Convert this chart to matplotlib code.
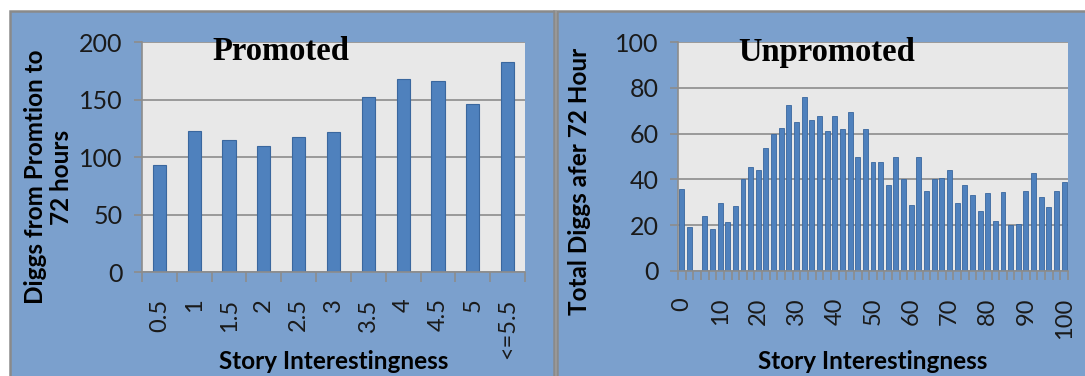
import numpy as np
import matplotlib
matplotlib.use("Agg")
import matplotlib.pyplot as plt
from matplotlib.patches import Rectangle

# promoted stories: mean diggs by interestingness bucket
promoted_labels = ['0.5', '1', '1.5', '2', '2.5', '3', '3.5', '4', '4.5', '5', '<=5.5']
promoted_diggs = [93, 123, 115, 110, 117, 122, 152, 168, 166, 146, 183]

# unpromoted stories: interestingness 0..100 in steps of 2
unpromoted_x = list(range(0, 101, 2))
unpromoted_diggs = [36, 19, 0, 24, 18.5, 29.5, 21.5, 28.5, 40, 45.5,
                    44, 53.5, 60, 62.5, 72.5, 65, 76, 66, 67.5, 61,
                    67.5, 62, 69.5, 50, 62, 47.5, 47.5, 37.5, 50, 40,
                    29, 50, 35, 40, 40.5, 44, 29.5, 37.5, 33, 26,
                    34, 22, 34.5, 20, 20.5, 35, 43, 32.5, 28, 35, 39]

W, H = 1085, 376
PANEL = '#7BA0CD'
PLOT_BG = '#E8E8E8'
GRID = '#8C8C8C'
BAR = '#4F81BD'
BAR_EDGE = '#3A679E'
TICK_FONT = 'Lato'

fig = plt.figure(figsize=(W / 100, H / 100), dpi=100)
fig.patch.set_facecolor('white')


def px(x0, y0, x1, y1):
    # pixel box (top-left origin) -> figure fraction rect
    return [x0 / W, 1 - y1 / H, (x1 - x0) / W, (y1 - y0) / H]


# the two chart panels and the divider between them
fig.patches.append(Rectangle((553 / W, 0), 4 / W, 1 - 10 / H, transform=fig.transFigure,
                             facecolor='#C4C4C4', edgecolor='none', zorder=0))
fig.patches.append(Rectangle((9.5 / W, -0.01), 544 / W, 1 - 10.5 / H + 0.01, transform=fig.transFigure,
                             facecolor=PANEL, edgecolor='#8A8A8A', linewidth=1.8, zorder=1))
fig.patches.append(Rectangle((556.5 / W, -0.01), 540 / W, 1 - 10.5 / H + 0.01, transform=fig.transFigure,
                             facecolor=PANEL, edgecolor='#8A8A8A', linewidth=1.8, zorder=1))


def style_axes(ax, n, ymax, ystep, major_pos, major_labels, tick_len):
    ax.set_facecolor(PLOT_BG)
    ax.set_xlim(-0.5, n - 0.5)
    ax.set_ylim(0, ymax)
    ax.set_yticks(np.arange(0, ymax + 1, ystep))
    ax.yaxis.grid(True, color=GRID, linewidth=1.2)
    ax.set_axisbelow(True)
    for s in ['top', 'right']:
        ax.spines[s].set_visible(False)
    for s in ['left', 'bottom']:
        ax.spines[s].set_color(GRID)
        ax.spines[s].set_linewidth(1.2)
    ax.set_xticks(major_pos)
    ax.set_xticklabels(major_labels, rotation=90, fontsize=17, family=TICK_FONT, color='#1a1a1a')
    ax.set_xticks(np.arange(-0.5, n, 1.0), minor=True)
    ax.tick_params(axis='x', which='major', length=0, pad=19)
    ax.tick_params(axis='x', which='minor', length=tick_len, width=1.2, color=GRID)
    ax.tick_params(axis='y', length=6, width=1.2, color=GRID, pad=8, labelsize=18)
    for lab in ax.get_yticklabels():
        lab.set_family(TICK_FONT)
        lab.set_color('#1a1a1a')


# left chart: promoted
ax1 = fig.add_axes(px(142, 42, 525, 272))
ax1.set_zorder(3)
xi = np.arange(len(promoted_diggs))
ax1.bar(xi, promoted_diggs, width=0.38, color=BAR, edgecolor=BAR_EDGE, linewidth=0.8)
style_axes(ax1, len(promoted_diggs), 200, 50, xi, promoted_labels, 7)
ax1.text(281 / W, 1 - 52 / H, 'Promoted', transform=fig.transFigure, ha='center', va='center',
         fontsize=23.5, fontweight='bold', family='Liberation Serif', zorder=5)
ax1.set_ylabel('Diggs from Promtion to\n72 hours', fontsize=17.5, fontweight='bold',
               family=TICK_FONT, linespacing=1.2, va='center')
ax1.yaxis.set_label_coords(48.5 / W, 1 - 177 / H, transform=fig.transFigure)
ax1.set_xlabel('Story Interestingness', fontsize=17.5, fontweight='bold', family=TICK_FONT, va='top')
ax1.xaxis.set_label_coords(333.5 / W, 1 - 350 / H, transform=fig.transFigure)

# right chart: unpromoted
ax2 = fig.add_axes(px(678, 42, 1068, 271))
ax2.set_zorder(3)
xj = np.arange(len(unpromoted_diggs))
ax2.bar(xj, unpromoted_diggs, width=0.65, color=BAR, edgecolor=BAR_EDGE, linewidth=0.6)
major = xj[::5]
style_axes(ax2, len(unpromoted_diggs), 100, 20, major, [str(unpromoted_x[i]) for i in major], 6.5)
ax2.text(827 / W, 1 - 52 / H, 'Unpromoted', transform=fig.transFigure, ha='center', va='center',
         fontsize=23.5, fontweight='bold', family='Liberation Serif', zorder=5)
ax2.set_ylabel('Total Diggs afer 72 Hour', fontsize=17.5, fontweight='bold', family=TICK_FONT, va='center')
ax2.yaxis.set_label_coords(579.5 / W, 1 - 181 / H, transform=fig.transFigure)
ax2.set_xlabel('Story Interestingness', fontsize=17.5, fontweight='bold', family=TICK_FONT, va='top')
ax2.xaxis.set_label_coords(873 / W, 1 - 350 / H, transform=fig.transFigure)

fig.savefig('out.png', dpi=100, facecolor=fig.get_facecolor())
